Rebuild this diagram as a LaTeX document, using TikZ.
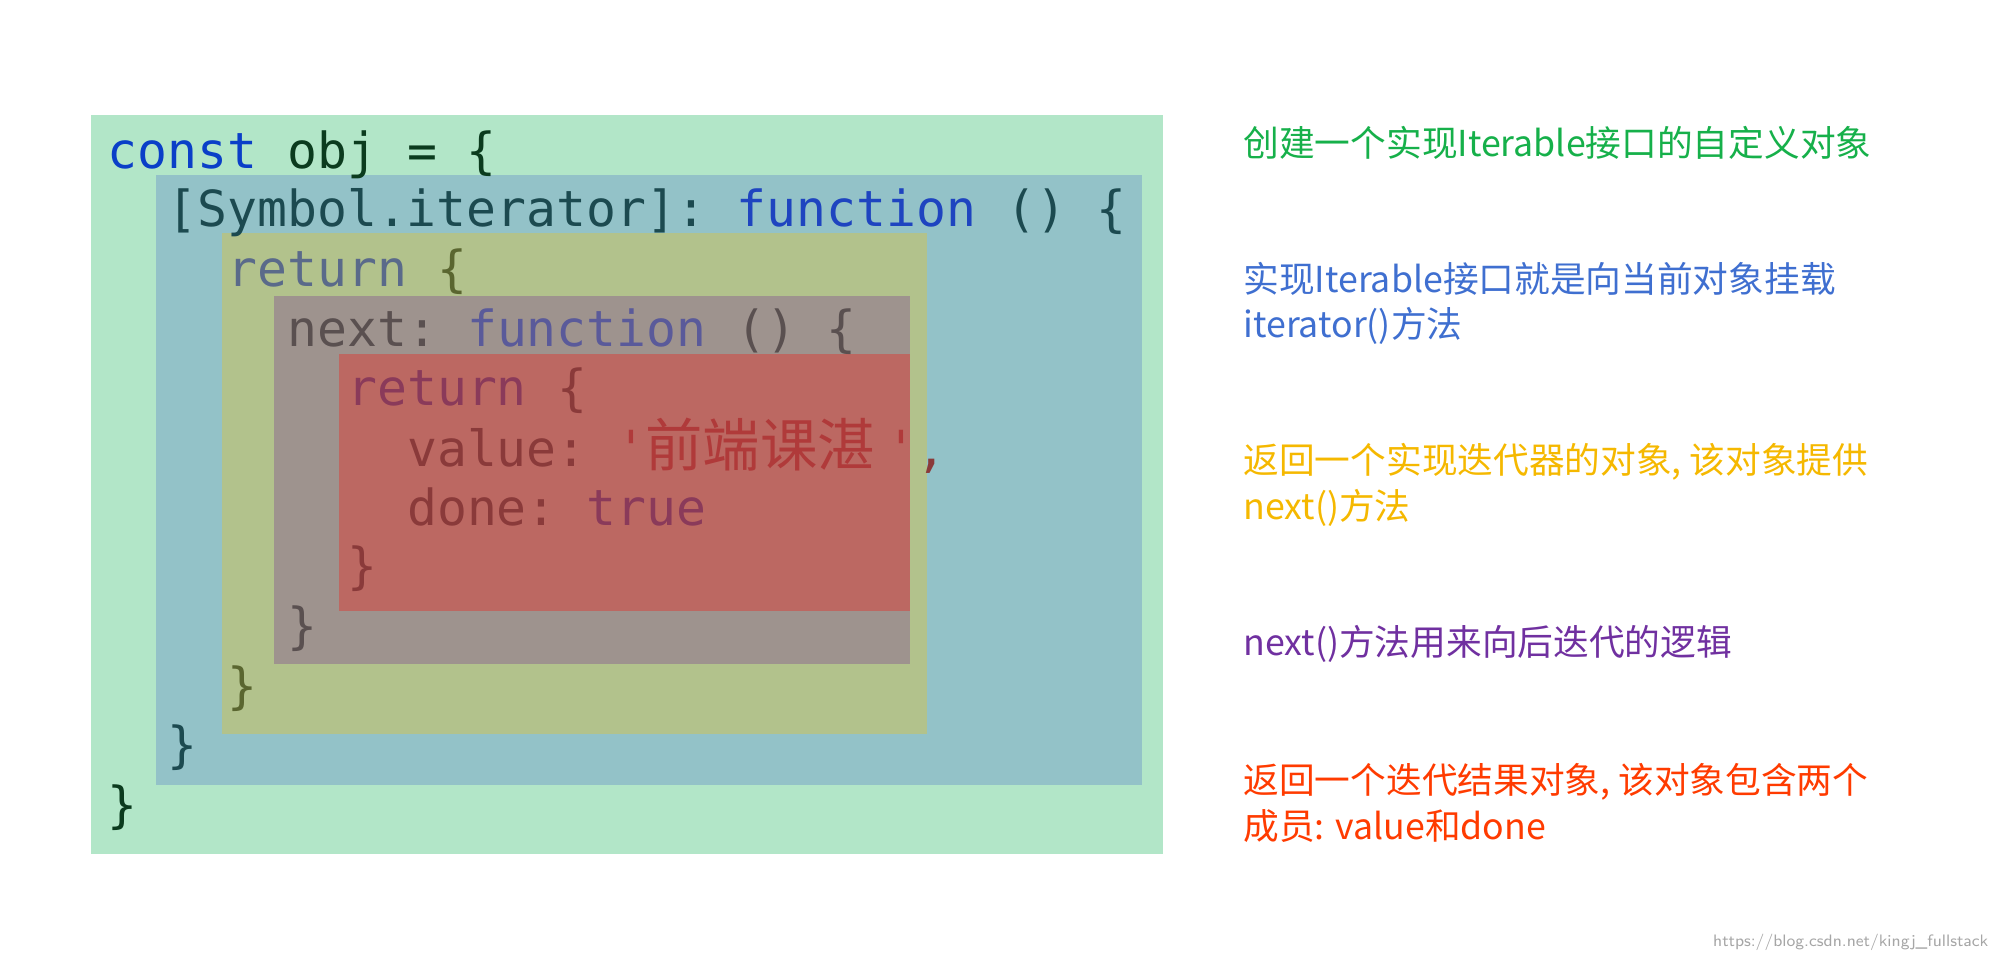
\documentclass[tikz,border=0pt]{standalone}
\usepackage{fontspec}
\setmonofont{DejaVu Sans Mono}
\newfontfamily\cjk{Noto Sans CJK SC}
\definecolor{cgreen}{HTML}{B2E6C8}
\definecolor{cblue}{HTML}{93C2C8}
\definecolor{colive}{HTML}{B2C28C}
\definecolor{cgray}{HTML}{9E938E}
\definecolor{cred}{HTML}{BC6862}
\definecolor{kwblue}{HTML}{0A3FC8}
\definecolor{dgreen}{HTML}{0B3B1E}
\definecolor{teal}{HTML}{1C4A50}
\definecolor{fnblue}{HTML}{1E44C0}
\definecolor{retc}{HTML}{5A6A8A}
\definecolor{olbr}{HTML}{5A6630}
\definecolor{nextc}{HTML}{5A5050}
\definecolor{fn2}{HTML}{5A5A9A}
\definecolor{purp}{HTML}{8A3A5A}
\definecolor{brn}{HTML}{8A3A3A}
\definecolor{strc}{HTML}{B03A3A}
\definecolor{t1}{HTML}{16B04A}
\definecolor{t2}{HTML}{3F6FD0}
\definecolor{t3}{HTML}{F5B800}
\definecolor{t4}{HTML}{7030A0}
\definecolor{t5}{HTML}{FF3B00}
\tikzset{
 code/.style={anchor=base west,inner sep=0,font=\ttfamily\fontsize{19.5pt}{20pt}\selectfont},
 note/.style={anchor=west,inner sep=0,align=left,font=\cjk\fontsize{14pt}{18pt}\selectfont},
}
\newcommand\tk[5]{\node[code,text=#4] (#1) at ({84+23.5*#2},#3) {#5};}
\begin{document}
\begin{tikzpicture}[x=0.5pt,y=-0.5pt]
\useasboundingbox (0,0) rectangle (1568,753);
\fill[cgreen] (71,90) rectangle (912,670);
\fill[cblue] (122,137) rectangle (896,616);
\fill[colive] (174,183) rectangle (727,576);
\fill[cgray] (215,232) rectangle (714,521);
\fill[cred] (266,278) rectangle (714,479);
\tk{a1}{0}{132}{kwblue}{const}
\tk{a2}{6}{132}{dgreen}{obj = \{}
\tk{b1}{2}{178}{teal}{[Symbol.iterator]:}
\tk{b2}{21}{178}{fnblue}{function}
\tk{b3}{30}{178}{teal}{() \{}
\tk{c1}{4}{225}{retc}{return}
\tk{c2}{11}{225}{olbr}{\{}
\tk{d1}{6}{272}{nextc}{next:}
\tk{d2}{12}{272}{fn2}{function}
\tk{d3}{21}{272}{nextc}{() \{}
\tk{e1}{8}{318}{purp}{return}
\tk{e2}{15}{318}{brn}{\{}
\tk{f1}{10}{366}{brn}{value:}
\tk{f2}{17}{366}{strc}{'}
\node[code,text=strc,font=\cjk\fontsize{22.5pt}{24pt}\selectfont] (f3) at ({84+23.5*18-1},366) {前端课湛};
\tk{f4}{26}{366}{strc}{'}
\tk{f5}{27}{366}{brn}{,}
\tk{g1}{10}{412}{brn}{done:}
\tk{g2}{16}{412}{purp}{true}
\tk{h1}{8}{458}{brn}{\}}
\tk{i1}{6}{505}{nextc}{\}}
\tk{j1}{4}{552}{olbr}{\}}
\tk{k1}{2}{598}{teal}{\}}
\tk{l1}{0}{645}{dgreen}{\}}
\node[note,text=t1] (n1) at (975,112) {创建一个实现Iterable接口的自定义对象};
\node[note,text=t2] (n2) at (975,238) {实现Iterable接口就是向当前对象挂载\\iterator()方法};
\node[note,text=t3] (n3) at (975,380) {返回一个实现迭代器的对象, 该对象提供\\next()方法};
\node[note,text=t4] (n4) at (975,505) {next()方法用来向后迭代的逻辑};
\node[note,text=t5] (n5) at (975,630) {返回一个迭代结果对象, 该对象包含两个\\成员: value和done};
\node[anchor=east,inner sep=0,text=gray!70,font=\sffamily\fontsize{6.5pt}{7pt}\selectfont] (wm) at (1560,739) {https://blog.csdn.net/kingj\_fullstack};
\end{tikzpicture}
\end{document}
